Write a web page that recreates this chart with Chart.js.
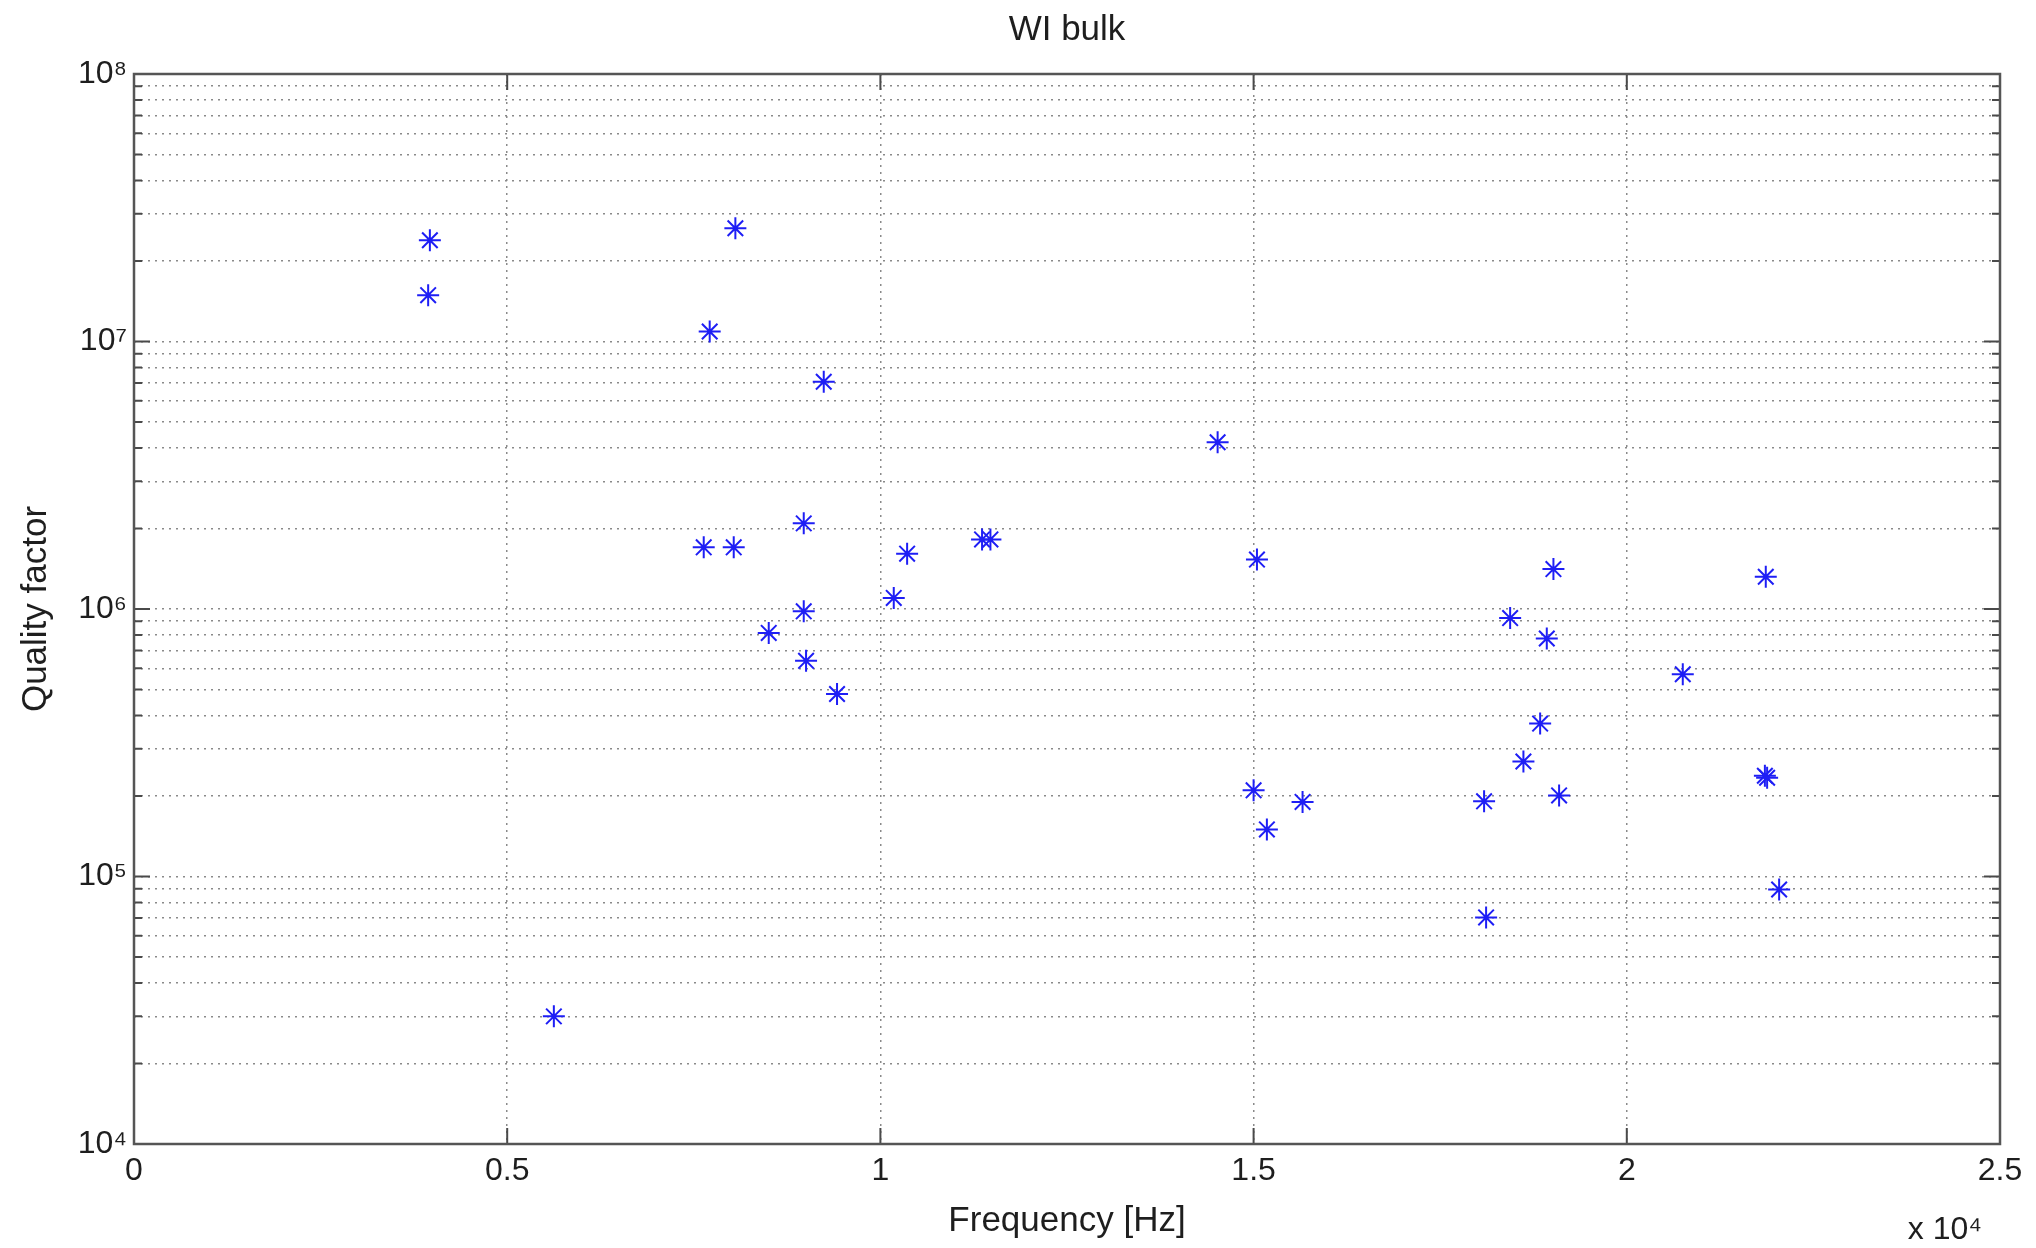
<!DOCTYPE html>
<html>
<head>
<meta charset="utf-8">
<script src="https://cdn.jsdelivr.net/npm/chart.js@4.4.1/dist/chart.umd.min.js"></script>
<style>
  html, body { margin: 0; padding: 0; background: #fff; }
  #box { width: 2036px; height: 1248px; }
</style>
</head>
<body>
<div id="box"><canvas id="chart"></canvas></div>
<script>
// frequency in Hz, quality factor
const freqs = [
  3964, 3941, 5625, 8057, 7713, 9241, 7633, 8035, 8973, 8973,
  8504, 9004, 9419, 10179, 10358, 11362, 11474, 14518, 15045, 15000,
  15178, 15656, 18088, 18115, 18437, 18928, 19017, 18839, 18615, 19093,
  20750, 21862, 21850, 21880, 22041
];
const qualities = [
  2.39e7, 1.49e7, 3.0e4, 2.65e7, 1.09e7, 7.07e6, 1.70e6, 1.70e6, 2.09e6, 9.8e5,
  8.14e5, 6.4e5, 4.81e5, 1.10e6, 1.61e6, 1.82e6, 1.82e6, 4.2e6, 1.53e6, 2.1e5,
  1.5e5, 1.9e5, 1.91e5, 7.03e4, 9.25e5, 7.76e5, 1.41e6, 3.73e5, 2.69e5, 2.01e5,
  5.70e5, 1.32e6, 2.38e5, 2.34e5, 8.94e4
];

const xTicks = [0, 5000, 10000, 15000, 20000, 25000];
const xTickLabels = ["0", "0.5", "1", "1.5", "2", "2.5"];
const decades = [1e4, 1e5, 1e6, 1e7, 1e8];
const decadeLabels = ["10\u2074", "10\u2075", "10\u2076", "10\u2077", "10\u2078"];
const minorSteps = [2, 3, 4, 5, 6, 7, 8, 9];

const FONT = "'Liberation Sans', Arial, Helvetica, sans-serif";
const TEXT = "#1e1e1e";

const points = freqs.map((f, i) => ({ x: f, y: qualities[i] }));

// matlab style box with ticks pointing inwards, title centred on the axes
const boxTicks = {
  id: "boxTicks",
  afterDraw(chart) {
    const { ctx, chartArea: a, scales } = chart;
    ctx.save();
    ctx.strokeStyle = "#4a4a4a";
    ctx.lineWidth = 2;
    ctx.beginPath();
    xTicks.forEach(v => {
      const px = scales.x.getPixelForValue(v);
      ctx.moveTo(px, a.bottom); ctx.lineTo(px, a.bottom - 16);
      ctx.moveTo(px, a.top); ctx.lineTo(px, a.top + 16);
    });
    scales.y.ticks.forEach(t => {
      const py = scales.y.getPixelForValue(t.value);
      const len = decades.includes(t.value) ? 16 : 8;
      ctx.moveTo(a.left, py); ctx.lineTo(a.left + len, py);
      ctx.moveTo(a.right, py); ctx.lineTo(a.right - len, py);
    });
    ctx.stroke();
    ctx.strokeStyle = "#555";
    ctx.lineWidth = 2.5;
    ctx.strokeRect(a.left, a.top, a.right - a.left, a.bottom - a.top);

    ctx.fillStyle = TEXT;
    ctx.textBaseline = "middle";
    ctx.textAlign = "center";
    ctx.font = "35px " + FONT;
    ctx.fillText("WI bulk", (a.left + a.right) / 2, a.top - 44);
    // axis multiplier
    ctx.textAlign = "right";
    ctx.font = "32px " + FONT;
    ctx.fillText("x 10\u2074", a.right - 18, a.bottom + 86);
    ctx.restore();
  }
};

new Chart(document.getElementById("chart"), {
  type: "scatter",
  data: {
    datasets: [{
      data: points,
      pointStyle: "star",
      pointRadius: 11,
      pointBorderWidth: 2,
      borderColor: "rgb(30,30,245)",
      backgroundColor: "rgb(30,30,245)"
    }]
  },
  options: {
    responsive: true,
    maintainAspectRatio: false,
    animation: false,
    layout: { padding: { left: 0, right: 36, top: 74, bottom: 0 } },
    plugins: {
      legend: { display: false },
      tooltip: { enabled: false },
      title: { display: false }
    },
    scales: {
      x: {
        type: "linear",
        min: 0,
        max: 25000,
        afterBuildTicks: s => { s.ticks = xTicks.map(v => ({ value: v })); },
        afterFit: s => { s.height = 104; },
        ticks: {
          color: TEXT,
          font: { family: FONT, size: 32 },
          padding: 8,
          maxRotation: 0,
          callback: v => xTickLabels[xTicks.indexOf(v)]
        },
        grid: { color: "#8a8a8a", lineWidth: 1.5, drawTicks: false },
        border: { display: false, dash: [2, 5] },
        title: {
          display: true,
          text: "Frequency [Hz]",
          color: TEXT,
          font: { family: FONT, size: 35 },
          padding: { top: 0, bottom: 6 }
        }
      },
      y: {
        type: "logarithmic",
        min: 1e4,
        max: 1e8,
        afterBuildTicks: s => {
          const t = [];
          decades.forEach((d, i) => {
            t.push({ value: d });
            if (i < decades.length - 1) minorSteps.forEach(m => t.push({ value: d * m }));
          });
          s.ticks = t;
        },
        afterFit: s => { s.width = 134; },
        ticks: {
          color: TEXT,
          font: { family: FONT, size: 32 },
          padding: 7,
          autoSkip: false,
          callback: v => {
            const i = decades.indexOf(v);
            return i >= 0 ? decadeLabels[i] : "";
          }
        },
        grid: { color: "#8a8a8a", lineWidth: 1.5, drawTicks: false },
        border: { display: false, dash: [2, 5] },
        title: {
          display: true,
          text: "Quality factor",
          color: TEXT,
          font: { family: FONT, size: 35 },
          padding: { top: 15, bottom: 0 }
        }
      }
    }
  },
  plugins: [boxTicks]
});
</script>
</body>
</html>
